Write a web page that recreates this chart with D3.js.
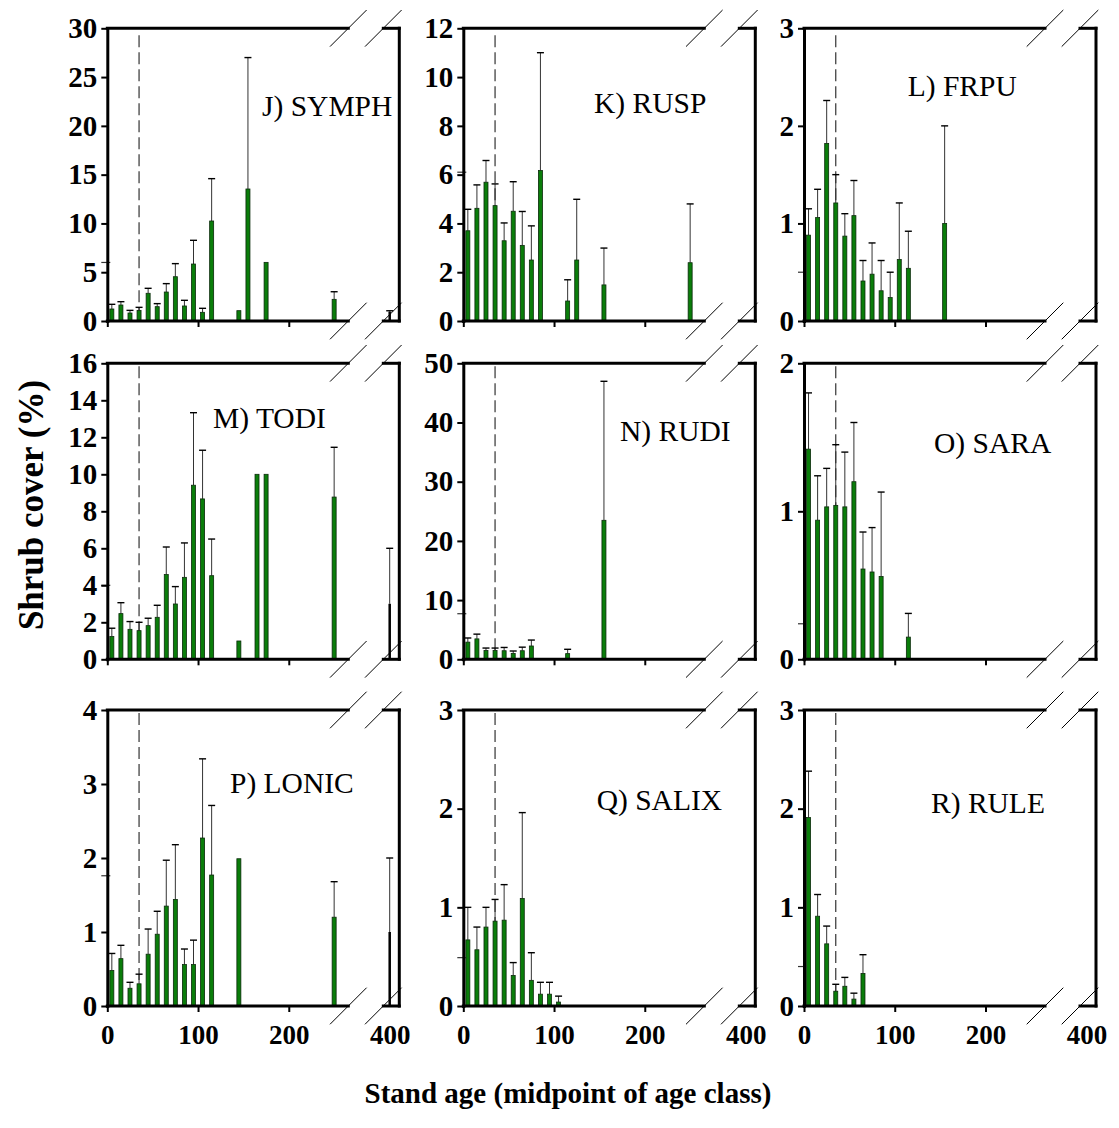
<!DOCTYPE html>
<html>
<head>
<meta charset="utf-8">
<script src="https://cdn.jsdelivr.net/npm/d3@7"></script>
<style>
  html, body { margin: 0; padding: 0; background: #fff; }
  svg { display: block; }
</style>
</head>
<body>
<script>
// ---------------- DATA ----------------
const panelLabels = ["J) SYMPH", "K) RUSP", "L) FRPU", "M) TODI", "N) RUDI", "O) SARA", "P) LONIC", "Q) SALIX", "R) RULE"];
const yMaxes = [30, 12, 3, 16, 50, 2, 4, 3, 3];
const ySteps = [5, 2, 1, 2, 10, 1, 1, 1, 1];
const xTickValues = [0, 100, 200, 400];
const xTickLabels = ["0", "100", "200", "400"];
const thresholdAge = 35;

const ages_J  = [5, 15, 25, 35, 45, 55, 65, 75, 85, 95, 105, 115, 145, 155, 175, 250, 400];
const cover_J = [1.23, 1.64, 0.82, 1.09, 2.84, 1.47, 2.97, 4.54, 1.54, 5.84, 0.89, 10.25, 1.06, 13.53, 6.01, 2.22, 0.95];
const upper_J = [1.71, 1.98, 1.09, 1.40, 3.35, 1.78, 3.83, 5.88, 2.12, 8.27, 1.30, 14.59, null, 27.0, null, 3.0, 1.05];

const ages_K  = [5, 15, 25, 35, 45, 55, 65, 75, 85, 115, 125, 155, 250];
const cover_K = [3.70, 4.62, 5.69, 4.73, 3.29, 4.50, 3.10, 2.50, 6.17, 0.82, 2.50, 1.48, 2.39];
const upper_K = [4.58, 5.58, 6.58, 5.62, 4.02, 5.71, 4.49, 3.90, 11.0, 1.69, 4.99, 2.99, 4.80];

const ages_L  = [5, 15, 25, 35, 45, 55, 65, 75, 85, 95, 105, 115, 155];
const cover_L = [0.88, 1.06, 1.82, 1.21, 0.87, 1.08, 0.41, 0.48, 0.31, 0.24, 0.63, 0.54, 1.0];
const upper_L = [1.15, 1.35, 2.26, 1.50, 1.10, 1.44, 0.62, 0.80, 0.62, 0.50, 1.21, 0.92, 2.0];

const ages_M  = [5, 15, 25, 35, 45, 55, 65, 75, 85, 95, 105, 115, 145, 165, 175, 250, 400];
const cover_M = [1.23, 2.47, 1.62, 1.55, 1.82, 2.27, 4.58, 2.99, 4.43, 9.41, 8.67, 4.52, 0.99, 10.0, 10.0, 8.77, 3.0];
const upper_M = [1.68, 3.06, 2.04, 2.0, 2.22, 2.92, 6.07, 3.93, 6.29, 13.33, 11.30, 6.50, null, null, null, 11.46, 6.0];

const ages_N  = [5, 15, 25, 35, 45, 55, 65, 75, 115, 155];
const cover_N = [2.9, 3.45, 1.5, 1.5, 1.45, 1.0, 1.45, 2.25, 0.96, 23.48];
const upper_N = [3.6, 4.25, 1.9, 1.9, 2.0, 1.4, 2.05, 3.25, 1.69, 46.96];

const ages_O  = [5, 15, 25, 35, 45, 55, 65, 75, 85, 115];
const cover_O = [1.42, 0.94, 1.03, 1.04, 1.03, 1.20, 0.61, 0.59, 0.56, 0.15];
const upper_O = [1.80, 1.24, 1.29, 1.45, 1.40, 1.60, 0.86, 0.89, 1.13, 0.31];

const ages_P  = [5, 15, 25, 35, 45, 55, 65, 75, 85, 95, 105, 115, 145, 250, 400];
const cover_P = [0.48, 0.64, 0.24, 0.30, 0.70, 0.97, 1.35, 1.44, 0.56, 0.56, 2.27, 1.77, 1.99, 1.20, 1.0];
const upper_P = [0.71, 0.82, 0.32, 0.43, 1.04, 1.28, 1.97, 2.18, 0.77, 0.89, 3.34, 2.71, null, 1.68, 2.0];

const ages_Q  = [5, 15, 25, 35, 45, 55, 65, 75, 85, 95, 105];
const cover_Q = [0.67, 0.57, 0.80, 0.86, 0.87, 0.31, 1.09, 0.26, 0.12, 0.12, 0.04];
const upper_Q = [1.0, 0.80, 1.0, 1.08, 1.23, 0.44, 1.96, 0.54, 0.24, 0.24, 0.10];

const ages_R  = [5, 15, 25, 35, 45, 55, 65];
const cover_R = [1.91, 0.91, 0.63, 0.15, 0.20, 0.07, 0.33];
const upper_R = [2.38, 1.13, 0.81, 0.22, 0.29, 0.13, 0.52];

// stray error-bar caps sitting on the y axis (age 0 class)
const strayCaps = [6.0, 6.1, 0.5, 4.0, 7.7, 0.24, 1.76, 0.49, 0.40];

const panelAges   = [ages_J, ages_K, ages_L, ages_M, ages_N, ages_O, ages_P, ages_Q, ages_R];
const panelCover  = [cover_J, cover_K, cover_L, cover_M, cover_N, cover_O, cover_P, cover_Q, cover_R];
const panelUpper  = [upper_J, upper_K, upper_L, upper_M, upper_N, upper_O, upper_P, upper_Q, upper_R];

// ---------------- LAYOUT ----------------
const W = 1119, H = 1128;
const colLeft = [107.3, 463.3, 804];
const rowTop = [28.3, 363.3, 710];
const rowH = [292.7, 296, 296];
const plotW = 292;
const xDomainStops = [0, 265.6, 392, 412];
const xRangeStops = [0, 241, 276, plotW];
const labelPos = [[154.7, 87.4], [130.7, 84.4], [103.7, 67.7], [105.7, 64.4], [156.7, 77.7], [130, 89.4], [122.7, 82.7], [133.4, 100], [127, 102.7]];
const serif = "'Liberation Serif', 'Times New Roman', Times, serif";

const svg = d3.select("body").append("svg").attr("width", W).attr("height", H);
svg.append("rect").attr("width", W).attr("height", H).attr("fill", "#fff");

panelLabels.forEach((label, i) => {
  const col = i % 3, row = Math.floor(i / 3);
  const h = rowH[row];
  const g = svg.append("g").attr("transform", `translate(${colLeft[col]},${rowTop[row]})`);
  const x = d3.scaleLinear().domain(xDomainStops).range(xRangeStops);
  const y = d3.scaleLinear().domain([0, yMaxes[i]]).range([h, 0]);

  const data = panelAges[i].map((a, k) => ({ age: a, v: panelCover[i][k], up: panelUpper[i][k] }));

  // dashed threshold line
  g.append("line")
    .attr("x1", x(thresholdAge)).attr("x2", x(thresholdAge))
    .attr("y1", row === 0 ? 7 : 3).attr("y2", h)
    .attr("stroke", "#333").attr("stroke-width", 1.2)
    .attr("stroke-dasharray", "12,5");

  // error whiskers
  const eb = data.filter(d => d.up != null);
  g.selectAll(".whisk").data(eb).join("line")
    .attr("x1", d => x(d.age)).attr("x2", d => x(d.age))
    .attr("y1", d => y(d.v)).attr("y2", d => y(d.up))
    .attr("stroke", "#333").attr("stroke-width", 1);
  g.selectAll(".cap").data(eb).join("line")
    .attr("x1", d => x(d.age) - 3.5).attr("x2", d => x(d.age) + 3.5)
    .attr("y1", d => y(d.up)).attr("y2", d => y(d.up))
    .attr("stroke", "#000").attr("stroke-width", 1.4);

  // bars
  g.selectAll(".bar").data(data).join("rect")
    .attr("x", d => x(d.age) - (d.age > 300 ? 1.25 : 2))
    .attr("width", d => d.age > 300 ? 2.5 : 4)
    .attr("y", d => y(d.v))
    .attr("height", d => h - y(d.v))
    .attr("fill", d => d.age > 300 ? "#000" : "#0a7d0a")
    .attr("stroke", d => d.age > 300 ? "none" : "#0b2a0b")
    .attr("stroke-width", 0.8);

  // stray cap on the y axis
  g.append("line")
    .attr("x1", x(0) - 6).attr("x2", x(0) + 3)
    .attr("y1", y(strayCaps[i])).attr("y2", y(strayCaps[i]))
    .attr("stroke", "#333").attr("stroke-width", 1.2);

  // y axis
  const yTicks = d3.range(0, yMaxes[i] + ySteps[i] / 2, ySteps[i]);
  const ya = g.append("g").call(d3.axisLeft(y).tickValues(yTicks).tickSize(6).tickSizeOuter(0).tickPadding(4).tickFormat(d3.format("d")));
  ya.select(".domain").attr("stroke", "#000").attr("stroke-width", 3).attr("stroke-linecap", "square");
  ya.selectAll(".tick line").attr("stroke", "#000").attr("stroke-width", 2);
  ya.selectAll(".tick text").attr("font-family", serif).attr("font-weight", "bold").attr("font-size", 29).attr("fill", "#000");

  // x axis (ticks and labels only)
  const xa = g.append("g").attr("transform", `translate(0,${h})`)
    .call(d3.axisBottom(x).tickValues(xTickValues).tickSize(6).tickSizeOuter(0).tickPadding(13)
      .tickFormat((d, k) => xTickLabels[k]));
  xa.select(".domain").remove();
  xa.selectAll(".tick line").attr("stroke", "#000").attr("stroke-width", 2)
    .filter(d => d > 300).remove();
  if (row === 2) {
    xa.selectAll(".tick text").attr("font-family", serif).attr("font-weight", "bold").attr("font-size", 27).attr("fill", "#000");
  } else {
    xa.selectAll(".tick text").remove();
  }

  // frame with break
  const b1 = x(xDomainStops[1]), b2 = x(xDomainStops[2]);
  const segs = [[0, b1], [b2, plotW]];
  [0, h].forEach(yy => {
    segs.forEach(s => {
      g.append("line").attr("x1", s[0]).attr("x2", s[1]).attr("y1", yy).attr("y2", yy)
        .attr("stroke", "#000").attr("stroke-width", 3).attr("stroke-linecap", "square");
    });
    [b1, b2].forEach(cx => {
      g.append("line").attr("x1", cx - 18.3).attr("y1", yy + 18.3).attr("x2", cx + 18.3).attr("y2", yy - 18.3)
        .attr("stroke", "#000").attr("stroke-width", 1);
    });
  });
  g.append("line").attr("x1", plotW).attr("x2", plotW).attr("y1", 0).attr("y2", h)
    .attr("stroke", "#000").attr("stroke-width", 3).attr("stroke-linecap", "square");

  // panel label
  g.append("text").attr("x", labelPos[i][0]).attr("y", labelPos[i][1])
    .attr("font-family", serif).attr("font-size", 29.5).attr("fill", "#000")
    .text(label);
});

// axis titles
svg.append("text")
  .attr("transform", "translate(43,505) rotate(-90)")
  .attr("text-anchor", "middle")
  .attr("font-family", serif).attr("font-weight", "bold").attr("font-size", 35)
  .text("Shrub cover (%)");
svg.append("text")
  .attr("x", 568).attr("y", 1103)
  .attr("text-anchor", "middle")
  .attr("font-family", serif).attr("font-weight", "bold").attr("font-size", 29)
  .text("Stand age (midpoint of age class)");
</script>
</body>
</html>
